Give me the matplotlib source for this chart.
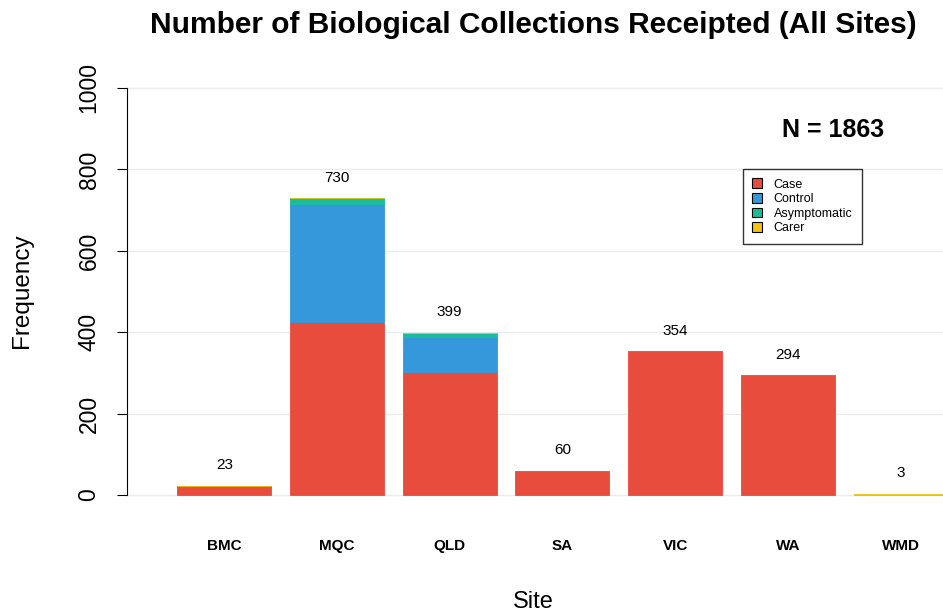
"""Stacked bar chart of biological collections receipted per site."""
import numpy as np
import matplotlib
matplotlib.use('Agg')
import matplotlib.pyplot as plt
from matplotlib.patches import Patch

plt.rcParams['font.family'] = ['Liberation Sans', 'DejaVu Sans']

SITES = ['BMC', 'MQC', 'QLD', 'SA', 'VIC', 'WA', 'WMD']
CASE = [21, 425, 303, 60, 354, 294, 1]
CONTROL = [0, 290, 85, 0, 0, 0, 0]
ASYMPTOMATIC = [0, 14, 9, 0, 0, 0, 0]
CARER = [2, 1, 2, 0, 0, 0, 2]
TOTALS = [23, 730, 399, 60, 354, 294, 3]
N_TOTAL = 1863

GROUPS = ['Case', 'Control', 'Asymptomatic', 'Carer']
COLOURS = ['#E74C3C', '#3498DB', '#1ABC9C', '#F1C40F']

W, H = 943, 615
fig = plt.figure(figsize=(W / 100, H / 100), dpi=100)

# plot region in pixels (R-style usr extension)
x_px0, x_px1 = 127, 979
y_px0, y_px1 = 511.3, 71.7
ax = fig.add_axes([x_px0 / W, (H - y_px0) / H, (x_px1 - x_px0) / W, (y_px0 - y_px1) / H])
ax.set_xlim(-0.336, 8.736)
ax.set_ylim(-40, 1040)

for yv in range(0, 1001, 200):
    ax.axhline(yv, color='#ebebeb', lw=1, zorder=0)

x = 0.7 + 1.2 * np.arange(len(SITES))
bottom = np.zeros(len(SITES))
for vals, col in zip([CASE, CONTROL, ASYMPTOMATIC, CARER], COLOURS):
    vals = np.array(vals, dtype=float)
    ax.bar(x, vals, width=1.0, bottom=bottom, color=col, edgecolor=col,
           lw=np.where(vals > 0, 0.6, 0), zorder=2)
    bottom += vals

for xi, t in zip(x, TOTALS):
    ax.text(xi, t + 50, str(t), ha='center', va='center', fontsize=11)

for xi, s in zip(x, SITES):
    ax.text(xi, -125, s, ha='center', va='center', fontsize=11, fontweight='bold')

for sp in ['top', 'right', 'bottom']:
    ax.spines[sp].set_visible(False)
ax.spines['left'].set_bounds(0, 1000)
ax.set_xticks([])
ax.set_yticks(range(0, 1001, 200))
ax.tick_params(axis='y', length=7, labelsize=16.5, pad=12)
for lab in ax.get_yticklabels():
    lab.set_rotation(90)
    lab.set_va('center')

fig.text(22 / W, 1 - 291 / H, 'Frequency', rotation=90, ha='center', va='center', fontsize=17.5)
fig.text(533 / W, 1 - 602 / H, 'Site', ha='center', va='center', fontsize=17)
fig.text(533 / W, 1 - 25 / H, 'Number of Biological Collections Receipted (All Sites)',
         ha='center', va='center', fontsize=21.5, fontweight='bold')
fig.text(833 / W, 1 - 130 / H, f'N = {N_TOTAL}', ha='center', va='center',
         fontsize=18, fontweight='bold')

handles = [Patch(facecolor=c, edgecolor='black', lw=0.8) for c in COLOURS]
leg = fig.legend(handles, GROUPS, loc='upper left', bbox_to_anchor=(743 / W, 1 - 169 / H),
                 fontsize=9, frameon=True, fancybox=False, handlelength=0.8, handleheight=0.8,
                 handletextpad=0.9, labelspacing=0.2, borderpad=0.75, borderaxespad=0)
leg.get_frame().set_edgecolor('black')
leg.get_frame().set_linewidth(1)

fig.savefig('out.png', dpi=100)
